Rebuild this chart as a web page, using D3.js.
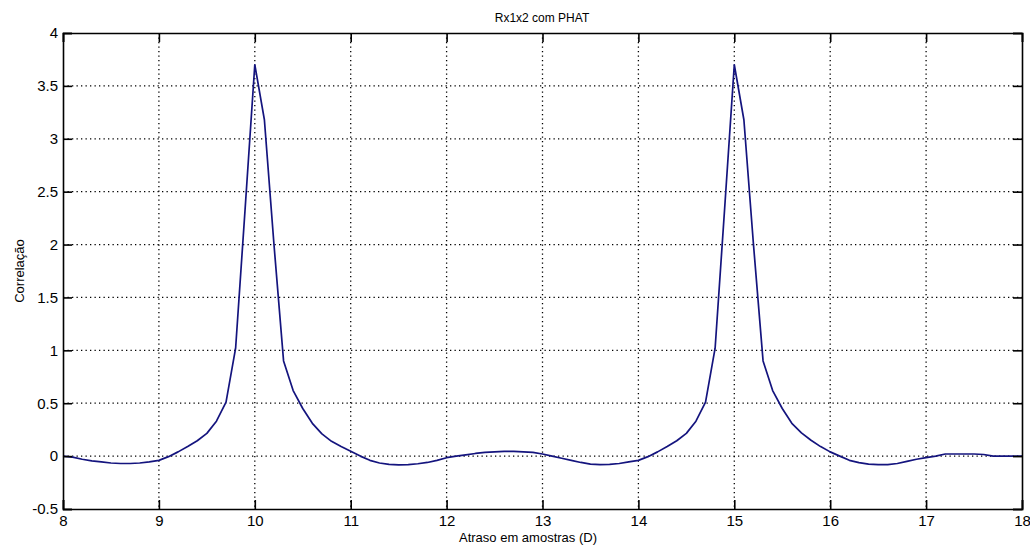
<!DOCTYPE html>
<html><head><meta charset="utf-8">
<script src="https://cdn.jsdelivr.net/npm/d3@7"></script>
<style>body{margin:0;background:#fff}svg{display:block}text{font-family:Arial,"Liberation Sans",sans-serif;fill:#000}</style>
</head><body><svg id="c" width="1030" height="548"></svg>
<script>
const title = "Rx1x2 com PHAT";
const xLabel = "Atraso em amostras (D)";
const yLabel = "Correlação";
const xTicks = [8,9,10,11,12,13,14,15,16,17,18];
const yTicks = [-0.5,0,0.5,1,1.5,2,2.5,3,3.5,4];
const delays = [8.0,8.1,8.2,8.3,8.4,8.5,8.6,8.7,8.8,8.9,
  9.0,9.1,9.2,9.3,9.4,9.5,9.6,9.7,9.8,9.9,
  10.0,10.1,10.2,10.3,10.4,10.5,10.6,10.7,10.8,10.9,
  11.0,11.1,11.2,11.3,11.4,11.5,11.6,11.7,11.8,11.9,
  12.0,12.1,12.2,12.3,12.4,12.5,12.6,12.7,12.8,12.9,
  13.0,13.1,13.2,13.3,13.4,13.5,13.6,13.7,13.8,13.9,
  14.0,14.1,14.2,14.3,14.4,14.5,14.6,14.7,14.8,14.9,
  15.0,15.1,15.2,15.3,15.4,15.5,15.6,15.7,15.8,15.9,
  16.0,16.1,16.2,16.3,16.4,16.5,16.6,16.7,16.8,16.9,
  17.0,17.1,17.2,17.3,17.4,17.5,17.6,17.7,17.8,17.9,18.0];
const correlation = [0.0,-0.01,-0.03,-0.045,-0.055,-0.065,-0.07,-0.07,-0.065,-0.055,
  -0.04,-0.005,0.04,0.09,0.145,0.215,0.33,0.51,1.02,2.35,
  3.70,3.18,2.0,0.9,0.62,0.45,0.31,0.21,0.14,0.09,
  0.045,0.0,-0.04,-0.065,-0.078,-0.082,-0.08,-0.072,-0.06,-0.04,
  -0.015,0.0,0.012,0.025,0.035,0.04,0.045,0.045,0.04,0.035,
  0.02,0.0,-0.02,-0.04,-0.06,-0.075,-0.08,-0.078,-0.07,-0.055,
  -0.04,-0.005,0.04,0.09,0.145,0.215,0.33,0.51,1.02,2.35,
  3.70,3.18,2.0,0.9,0.62,0.45,0.31,0.22,0.15,0.09,
  0.04,0.0,-0.04,-0.062,-0.075,-0.08,-0.08,-0.07,-0.05,-0.03,
  -0.015,0.0,0.02,0.02,0.02,0.02,0.015,0.0,0.0,0.0,0.0];

const svg = d3.select("#c");
const L=63, R=1022, T=33, B=509;
const x = d3.scaleLinear().domain([8,18]).range([L,R]);
const y = d3.scaleLinear().domain([-0.5,4]).range([B,T]);

// grid
const g = svg.append("g");
g.selectAll("line.gx").data(xTicks.slice(1,-1)).join("line")
  .attr("x1",d=>x(d)).attr("x2",d=>x(d)).attr("y1",T).attr("y2",B)
  .attr("stroke","#000").attr("stroke-width",1.3).attr("stroke-dasharray","1.3,3.2");
g.selectAll("line.gy").data(yTicks.slice(1,-1)).join("line")
  .attr("y1",d=>y(d)).attr("y2",d=>y(d)).attr("x1",L).attr("x2",R)
  .attr("stroke","#000").attr("stroke-width",1.3).attr("stroke-dasharray","1.3,3.2");

// line
const line = d3.line().x((d,i)=>x(delays[i])).y(d=>y(d));
svg.append("path").datum(correlation).attr("d",line)
  .attr("fill","none").attr("stroke","#14147e").attr("stroke-width",1.7).attr("stroke-linejoin","round");

// axes (inward ticks, box)
const tl = 9;
const axB = d3.axisBottom(x).tickValues(xTicks).tickSize(-tl).tickPadding(6).tickFormat(d3.format("d"));
const axT = d3.axisTop(x).tickValues(xTicks).tickSize(-tl).tickFormat("");
const axL = d3.axisLeft(y).tickValues(yTicks).tickSize(-tl).tickPadding(5).tickFormat(d=>String(d));
const axR = d3.axisRight(y).tickValues(yTicks).tickSize(-tl).tickFormat("");
function style(sel){
  sel.selectAll("path.domain").attr("stroke","#000").attr("stroke-width",1.6);
  sel.selectAll(".tick line").attr("stroke","#000").attr("stroke-width",1.6);
  sel.selectAll("text").attr("font-size",15).attr("font-family","Arial, 'Liberation Sans', sans-serif").attr("fill","#000");
}
svg.append("g").attr("transform",`translate(0,${B})`).call(axB).call(style);
svg.append("g").attr("transform",`translate(0,${T})`).call(axT).call(style);
svg.append("g").attr("transform",`translate(${L},0)`).call(axL).call(style);
svg.append("g").attr("transform",`translate(${R},0)`).call(axR).call(style);

svg.append("text").attr("x",542).attr("y",22).attr("text-anchor","middle").attr("font-size",12).text(title);
svg.append("text").attr("x",528).attr("y",542).attr("text-anchor","middle").attr("font-size",13).text(xLabel);
svg.append("text").attr("transform","translate(24,271) rotate(-90)").attr("text-anchor","middle").attr("font-size",13).text(yLabel);
</script></body></html>
